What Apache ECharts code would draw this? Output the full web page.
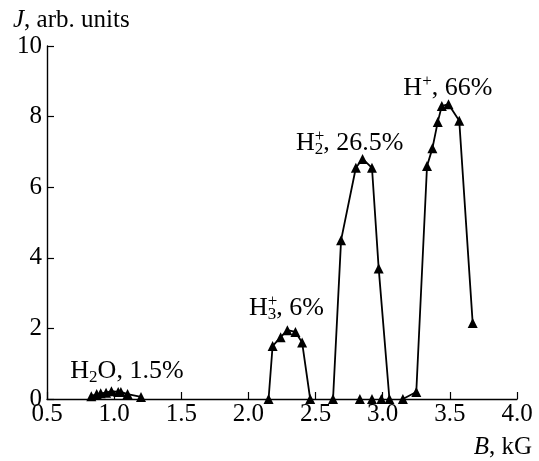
<!DOCTYPE html>
<html>
<head>
<meta charset="utf-8">
<script src="https://cdn.jsdelivr.net/npm/echarts@6/dist/echarts.min.js"></script>
<style>
  html, body { margin: 0; padding: 0; background: #fff; }
  #chart { width: 539px; height: 461px; }
</style>
</head>
<body>
<div id="chart"></div>
<script>
// Ion current J versus magnetic field B for each ion species
const bH2O = [0.83, 0.87, 0.90, 0.94, 0.98, 1.03, 1.05, 1.10, 1.20];
const jH2O = [0.08, 0.14, 0.16, 0.18, 0.22, 0.20, 0.20, 0.14, 0.06];

const bH3 = [2.15, 2.18, 2.24, 2.29, 2.35, 2.40, 2.46];
const jH3 = [0.00, 1.50, 1.75, 1.95, 1.90, 1.60, 0.00];

const bH2 = [2.63, 2.69, 2.80, 2.85, 2.92, 2.97, 3.05];
const jH2 = [0.00, 4.50, 6.55, 6.80, 6.55, 3.70, 0.00];

const bH1 = [3.15, 3.25, 3.33, 3.37, 3.41, 3.44, 3.49, 3.57, 3.67];
const jH1 = [0.00, 0.20, 6.60, 7.10, 7.85, 8.30, 8.35, 7.88, 2.15];

// isolated zero-current readings between the H2+ and H+ peaks
const bZero = [2.83, 2.92, 2.99];
const jZero = [0, 0, 0];

// peak annotations: left edge (B) and vertical middle (J)
const labelB = [0.67, 2.00, 2.35, 3.15];
const labelJ = [0.80, 2.58, 7.25, 8.81];
const labelText = [
  '{t|H}{sub|2}{t|O, 1.5%}',
  '{t|H}{supz|+}{sub|3}{t|, 6%}',
  '{t|H}{supz|+}{sub|2}{t|, 26.5%}',
  '{t|H}{sup|+}{t|, 66%}'
];

const xTicks = ['0.5', '1.0', '1.5', '2.0', '2.5', '3.0', '3.5', '4.0'];
const yTicks = ['0', '2', '4', '6', '8', '10'];

const FONT = '"Liberation Serif", "DejaVu Serif", serif';
const zip = (a, b) => a.map((v, i) => [v, b[i]]);

const lineSeries = (b, j) => ({
  type: 'line',
  data: zip(b, j),
  symbol: 'triangle',
  symbolSize: 10,
  showSymbol: true,
  lineStyle: { color: '#000', width: 1.8 },
  itemStyle: { color: '#000', opacity: 1 },
  z: 3
});

const chart = echarts.init(document.getElementById('chart'), null, { renderer: 'canvas' });

chart.setOption({
  backgroundColor: '#fff',
  animation: false,
  grid: { left: 47, right: 22, top: 46, bottom: 62, containLabel: false },
  xAxis: {
    type: 'value',
    min: 0.5, max: 4.0, interval: 0.5,
    axisLine: { show: true, onZero: false, lineStyle: { color: '#000', width: 1.4 } },
    axisTick: { show: true, inside: true, length: 7, lineStyle: { color: '#000', width: 1.2 } },
    axisLabel: {
      color: '#000', fontFamily: FONT, fontSize: 25, margin: 3,
      formatter: (v) => xTicks[Math.round((v - 0.5) / 0.5)]
    },
    splitLine: { show: false }
  },
  yAxis: {
    type: 'value',
    min: 0, max: 10, interval: 2,
    axisLine: { show: true, onZero: false, lineStyle: { color: '#000', width: 1.4 } },
    axisTick: { show: true, inside: true, length: 7, lineStyle: { color: '#000', width: 1.2 } },
    axisLabel: {
      color: '#000', fontFamily: FONT, fontSize: 25, margin: 5,
      formatter: (v) => yTicks[Math.round(v / 2)]
    },
    splitLine: { show: false }
  },
  graphic: [
    {
      type: 'text', left: 13, top: 8,
      style: {
        rich: {
          i: { fontFamily: FONT, fontSize: 25, fontStyle: 'italic', fill: '#000' },
          n: { fontFamily: FONT, fontSize: 25, fill: '#000' }
        },
        text: '{i|J}{n|, arb. units}'
      }
    },
    {
      type: 'text', right: 7, top: 435,
      style: {
        rich: {
          i: { fontFamily: FONT, fontSize: 25, fontStyle: 'italic', fill: '#000' },
          n: { fontFamily: FONT, fontSize: 25, fill: '#000' }
        },
        text: '{i|B}{n|, kG}'
      }
    }
  ],
  series: [
    lineSeries(bH2O, jH2O),
    lineSeries(bH3, jH3),
    lineSeries(bH2, jH2),
    lineSeries(bH1, jH1),
    {
      type: 'scatter',
      data: zip(bZero, jZero),
      symbol: 'triangle',
      symbolSize: 10,
      itemStyle: { color: '#000', opacity: 1 },
      z: 3
    },
    {
      type: 'scatter',
      data: labelB.map((b, i) => ({ value: [b, labelJ[i]], text: labelText[i] })),
      symbolSize: 1,
      silent: true,
      itemStyle: { color: '#fff', opacity: 0 },
      label: {
        show: true,
        position: 'right',
        distance: 0,
        opacity: 1,
        formatter: (p) => p.data.text,
        rich: {
          t: { fontFamily: FONT, fontSize: 26, color: '#000', lineHeight: 30, opacity: 1 },
          sub: { fontFamily: FONT, fontSize: 17, color: '#000', verticalAlign: 'bottom', lineHeight: 17 },
          sup: { fontFamily: FONT, fontSize: 17, color: '#000', verticalAlign: 'top', lineHeight: 17 },
          supz: { fontFamily: FONT, fontSize: 17, color: '#000', verticalAlign: 'top', lineHeight: 17, width: 0.01 }
        }
      }
    }
  ]
});
</script>
</body>
</html>
